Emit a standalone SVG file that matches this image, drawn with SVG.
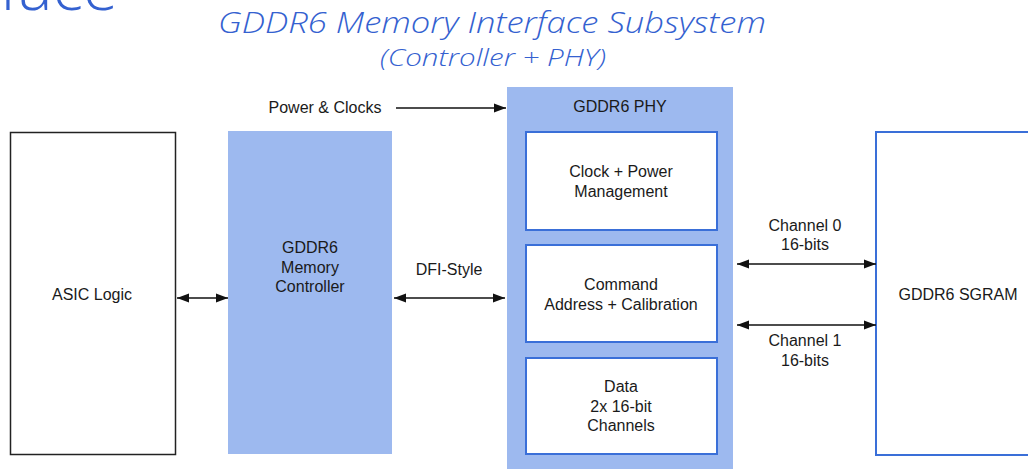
<svg xmlns="http://www.w3.org/2000/svg" width="1028" height="469" viewBox="0 0 1028 469">
<defs>
<style>
.t{font-family:"Liberation Sans",Arial,sans-serif;font-size:16px;fill:#1a1a1a;text-anchor:middle}
.ti{font-family:"Open Sans","Noto Sans",sans-serif;font-style:italic;font-weight:300;fill:#3461d0;text-anchor:middle}
.blue{fill:#9db9ef}
.inner{fill:#fff;stroke:#3a6fd8;stroke-width:2}
.ln{stroke:#111;stroke-width:1.7;fill:none}
</style>
<marker id="ah" viewBox="0 0 12 10" refX="12" refY="5" markerWidth="12" markerHeight="10" markerUnits="userSpaceOnUse" orient="auto-start-reverse">
<path d="M0,0.5 L12,5 L0,9.5 Z" fill="#111"/>
</marker>
</defs>
<rect width="1028" height="469" fill="#fff"/>
<text x="118" y="10" font-family="Open Sans, sans-serif" font-weight="300" font-size="64" fill="#3461d0" text-anchor="end">Interface</text>
<text class="ti" x="492" y="33" font-size="29" textLength="548" lengthAdjust="spacingAndGlyphs">GDDR6 Memory Interface Subsystem</text>
<text class="ti" x="493" y="66" font-size="24" textLength="226" lengthAdjust="spacingAndGlyphs">(Controller + PHY)</text>

<g id="asic">
<rect x="10.5" y="132.5" width="165" height="322" fill="#fff" stroke="#222" stroke-width="1.5"/>
<text class="t" x="92" y="300">ASIC Logic</text>
</g>
<g id="controller">
<rect class="blue" x="228" y="131" width="164" height="323"/>
<text class="t" x="310" y="253">GDDR6</text>
<text class="t" x="310" y="273">Memory</text>
<text class="t" x="310" y="292">Controller</text>
</g>
<g id="phy">
<rect class="blue" x="507" y="87" width="226" height="382"/>
<text class="t" x="620" y="112">GDDR6 PHY</text>
</g>
<g id="clockpower">
<rect class="inner" x="526" y="132" width="191" height="98"/>
<text class="t" x="621" y="177">Clock + Power</text>
<text class="t" x="621" y="197">Management</text>
</g>
<g id="command">
<rect class="inner" x="526" y="245" width="191" height="97"/>
<text class="t" x="621" y="290">Command</text>
<text class="t" x="621" y="310">Address + Calibration</text>
</g>
<g id="data">
<rect class="inner" x="526" y="358" width="191" height="96"/>
<text class="t" x="621" y="392">Data</text>
<text class="t" x="621" y="412">2x 16-bit</text>
<text class="t" x="621" y="431">Channels</text>
</g>
<g id="sgram">
<rect x="876" y="132" width="170" height="323" fill="#fff" stroke="#3a6fd8" stroke-width="2"/>
<text class="t" x="958" y="300">GDDR6 SGRAM</text>
</g>

<g id="connectors">
<line class="ln" x1="177" y1="298" x2="228" y2="298" marker-start="url(#ah)" marker-end="url(#ah)"/>
<line class="ln" x1="396" y1="108" x2="506" y2="108" marker-end="url(#ah)"/>
<line class="ln" x1="394" y1="298" x2="505" y2="298" marker-start="url(#ah)" marker-end="url(#ah)"/>
<line class="ln" x1="737" y1="264" x2="876" y2="264" marker-start="url(#ah)" marker-end="url(#ah)"/>
<line class="ln" x1="737" y1="325" x2="876" y2="325" marker-start="url(#ah)" marker-end="url(#ah)"/>
</g>
<g id="labels">
<text class="t" x="325" y="113">Power &amp; Clocks</text>
<text class="t" x="449" y="275">DFI-Style</text>
<text class="t" x="805" y="231">Channel 0</text>
<text class="t" x="805" y="250">16-bits</text>
<text class="t" x="805" y="346">Channel 1</text>
<text class="t" x="805" y="366">16-bits</text>
</g>
</svg>
